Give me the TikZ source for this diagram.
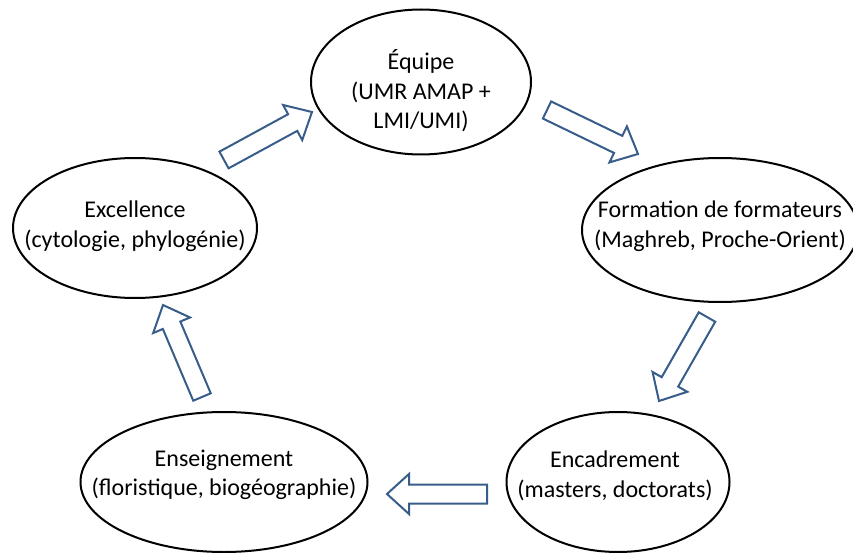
\documentclass[tikz,border=0pt]{standalone}
\usepackage{fontspec}
\setmainfont{Carlito}
\usepackage{tikz}
\usetikzlibrary{shapes.geometric, calc}
\definecolor{arrowblue}{RGB}{56,93,138}

\begin{document}
\begin{tikzpicture}[x=1pt, y=-1pt,
	bubble/.style={draw, ellipse, line width=2pt, inner sep=0pt},
	caption/.style={align=center, inner sep=0pt, font=\fontsize{24}{29.5}\selectfont},
	blockarrow/.style={draw=arrowblue, fill=white, line width=2pt, line join=miter,
		to path={let \p1=(\tikztostart), \p2=(\tikztotarget),
			\n1={atan2(\y2-\y1,\x2-\x1)}, \n2={veclen(\x2-\x1,\y2-\y1)} in
			[shift={(\p1)}, rotate=\n1]
			(0pt,-9.5pt) -- (\n2-22pt,-9.5pt) -- (\n2-22pt,-20pt) -- (\n2,0pt)
			-- (\n2-22pt,20pt) -- (\n2-22pt,9.5pt) -- (0pt,9.5pt) -- cycle}}]
	\useasboundingbox (0,0) rectangle (853,553);
	% ellipses
	\node[bubble, minimum width=220pt, minimum height=145pt] (equipe) at (421,82) {};
	\node[bubble, minimum width=244pt, minimum height=140pt] (excellence) at (135,228) {};
	\node[bubble, minimum width=276pt, minimum height=144pt] (formation) at (720,230) {};
	\node[bubble, minimum width=287pt, minimum height=140pt] (enseignement) at (224,482) {};
	\node[bubble, minimum width=223pt, minimum height=140pt] (encadrement) at (618,482) {};
	\node[caption] (equipe text) at (421,91) {Équipe\\(UMR AMAP +\\LMI/UMI)};
	\node[caption] (excellence text) at (135,226) {Excellence\\(cytologie, phylogénie)};
	\node[caption] (formation text) at (720,226) {Formation de formateurs\\(Maghreb, Proche-Orient)};
	\node[caption] (enseignement text) at (224,475) {Enseignement\\(floristique, biogéographie)};
	\node[caption] (encadrement text) at (615,476) {Encadrement\\(masters, doctorats)};
	% arrow ends
	\coordinate (excellence out) at (224,160);
	\coordinate (equipe in) at (312,112);
	\coordinate (equipe out) at (547,110);
	\coordinate (formation in) at (638,154);
	\coordinate (formation out) at (707,317);
	\coordinate (encadrement in) at (659,401);
	\coordinate (encadrement out) at (487,494);
	\coordinate (enseignement in) at (387,494);
	\coordinate (enseignement out) at (202,397);
	\coordinate (excellence in) at (163,305);
	\draw[blockarrow] (excellence out) to (equipe in);
	\draw[blockarrow] (equipe out) to (formation in);
	\draw[blockarrow] (formation out) to (encadrement in);
	\draw[blockarrow] (encadrement out) to (enseignement in);
	\draw[blockarrow] (enseignement out) to (excellence in);
\end{tikzpicture}
\end{document}
